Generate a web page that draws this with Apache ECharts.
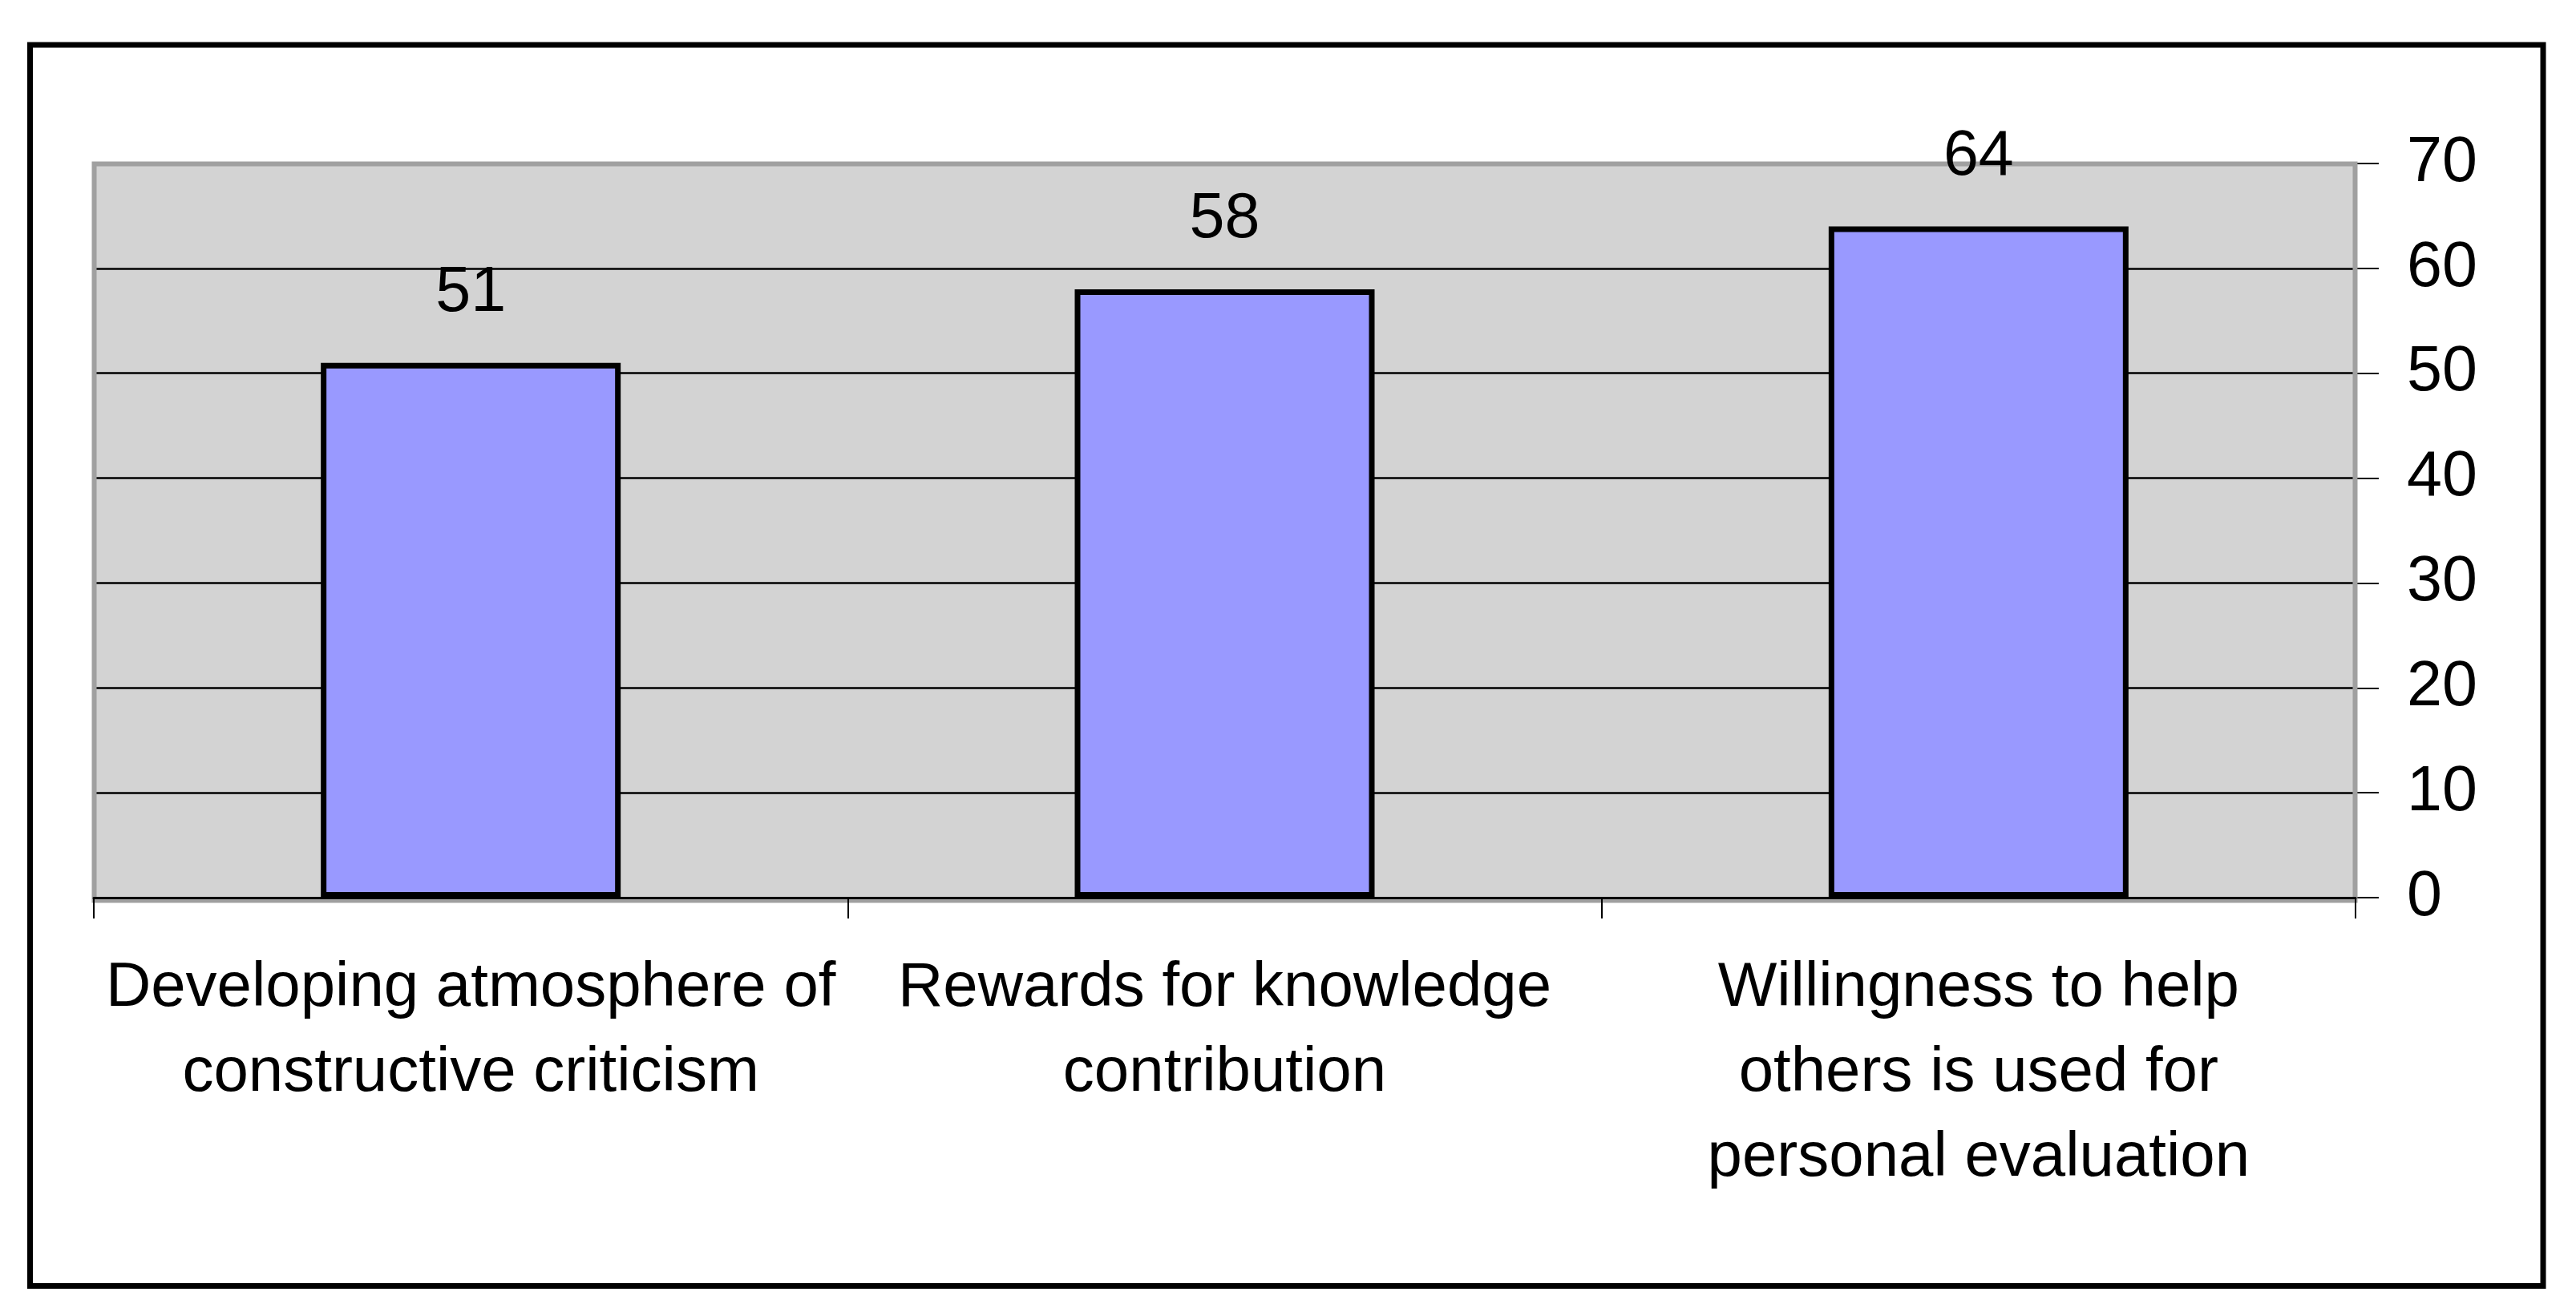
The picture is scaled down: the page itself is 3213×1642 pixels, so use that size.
<!DOCTYPE html>
<html>
<head>
<meta charset="utf-8">
<script src="https://cdn.jsdelivr.net/npm/echarts@6/dist/echarts.min.js"></script>
<style>
  html, body { margin: 0; padding: 0; background: #fff; }
  #main { width: 3213px; height: 1642px; }
</style>
</head>
<body>
<div id="main"></div>
<script>
// categories (line breaks as in the picture)
var categories = [
    'Developing atmosphere of\nconstructive criticism',
    'Rewards for knowledge\ncontribution',
    'Willingness to help\nothers is used for\npersonal evaluation'
];
// percentages
var values = [51, 58, 64];
// value axis
var yMin = 0, yMax = 70, yStep = 10;

var chart = echarts.init(document.getElementById('main'));

var font = 'Liberation Sans, Arial, sans-serif';

var option = {
    backgroundColor: '#ffffff',
    animation: false,
    grid: {
        left: 117,
        right: 275,
        top: 204,
        bottom: 522,
        show: true,
        backgroundColor: '#d3d3d3',
        borderWidth: 0
    },
    graphic: [
        // outer frame
        {
            type: 'rect',
            shape: { x: 37.5, y: 56, width: 3134.5, height: 1548.5 },
            style: { fill: 'none', stroke: '#000', lineWidth: 7 },
            z: 100
        },
        // gray plot border, over the gridlines, under the bars
        {
            type: 'rect',
            shape: { x: 117.5, y: 204.5, width: 2820, height: 919 },
            style: { fill: 'none', stroke: '#a0a0a0', lineWidth: 6 },
            z: 1
        }
    ],
    xAxis: {
        type: 'category',
        data: categories,
        z: 3,
        axisLine: { show: true, lineStyle: { color: '#000', width: 3 } },
        axisTick: { show: true, length: 26, lineStyle: { color: '#000', width: 2 } },
        axisLabel: {
            interval: 0,
            margin: 60,
            color: '#000',
            fontFamily: font,
            fontSize: 78,
            lineHeight: 106,
            align: 'center'
        },
        splitLine: { show: false }
    },
    yAxis: {
        type: 'value',
        position: 'right',
        min: yMin,
        max: yMax,
        interval: yStep,
        z: 0,
        axisLine: { show: false },
        axisTick: { show: true, length: 29, lineStyle: { color: '#000', width: 2 } },
        axisLabel: {
            margin: 64,
            color: '#000',
            fontFamily: font,
            fontSize: 79
        },
        splitLine: { show: true, lineStyle: { color: '#000', width: 2.5 } }
    },
    series: [
        {
            type: 'bar',
            data: values,
            barWidth: 374,
            z: 2,
            itemStyle: {
                color: '#9999ff',
                borderColor: '#000',
                borderWidth: 7
            },
            label: {
                show: true,
                position: 'top',
                distance: 47,
                color: '#000',
                fontFamily: font,
                fontSize: 79
            }
        }
    ]
};

chart.setOption(option);

window.addEventListener('resize', function () {
    chart.resize();
});
</script>
</body>
</html>
